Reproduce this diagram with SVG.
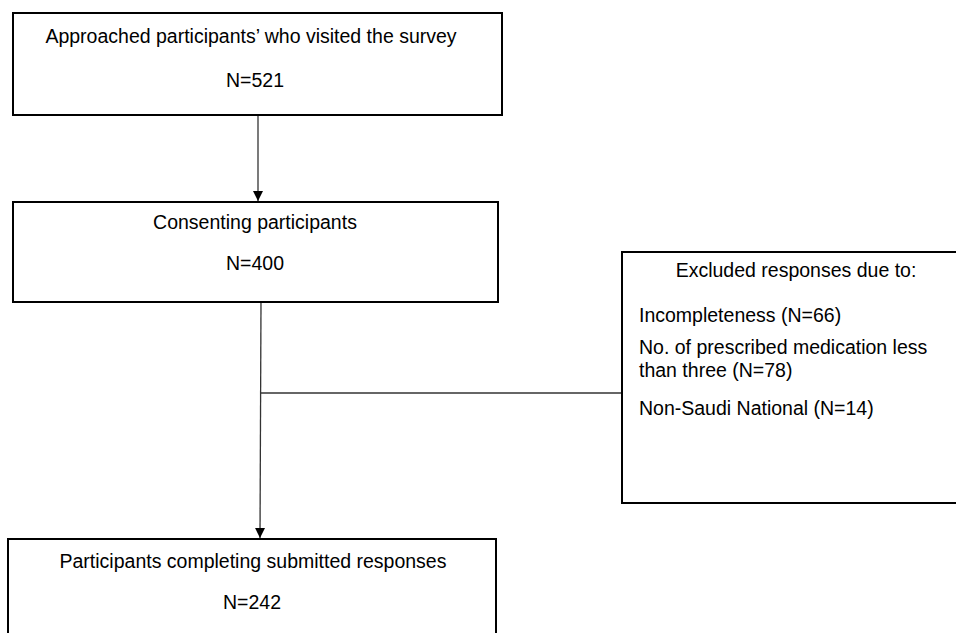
<svg xmlns="http://www.w3.org/2000/svg" width="956" height="633" viewBox="0 0 956 633">
<defs>
<style>
.box{fill:#fff;stroke:#000;stroke-width:2}
.t{font-family:"Liberation Sans",Arial,sans-serif;font-size:19.5px;fill:#000}
.c{text-anchor:middle}
.ln{stroke:#333;stroke-width:1.3;fill:none}
</style>
<marker id="ah" viewBox="0 0 10 10" refX="10" refY="5" markerWidth="10" markerHeight="10" markerUnits="userSpaceOnUse" orient="auto">
<path d="M0,0 L10,5 L0,10 z" fill="#000"/>
</marker>
</defs>
<rect width="956" height="633" fill="#fff"/>
<g id="connectors">
<line class="ln" x1="258" y1="115" x2="258" y2="201" marker-end="url(#ah)"/>
<line class="ln" x1="261" y1="302" x2="260" y2="538" marker-end="url(#ah)"/>
<line class="ln" x1="261" y1="393" x2="622" y2="393"/>
</g>
<g id="n1">
<rect class="box" x="13" y="13" width="489" height="102"/>
<text class="t c" x="251" y="43">Approached participants’ who visited the survey</text>
<text class="t c" x="255" y="87">N=521</text>
</g>
<g id="n2">
<rect class="box" x="13" y="202" width="485" height="100"/>
<text class="t c" x="255" y="229">Consenting participants</text>
<text class="t c" x="255" y="270">N=400</text>
</g>
<g id="n3">
<rect class="box" x="622" y="252" width="340" height="251"/>
<text class="t c" x="796" y="277">Excluded responses due to:</text>
<text class="t" x="639" y="322">Incompleteness (N=66)</text>
<text class="t" x="639" y="354">No. of prescribed medication less</text>
<text class="t" x="639" y="377">than three (N=78)</text>
<text class="t" x="639" y="415">Non-Saudi National (N=14)</text>
</g>
<g id="n4">
<rect class="box" x="8" y="539" width="488" height="110"/>
<text class="t c" x="253" y="568">Participants completing submitted responses</text>
<text class="t c" x="252" y="609">N=242</text>
</g>
</svg>
